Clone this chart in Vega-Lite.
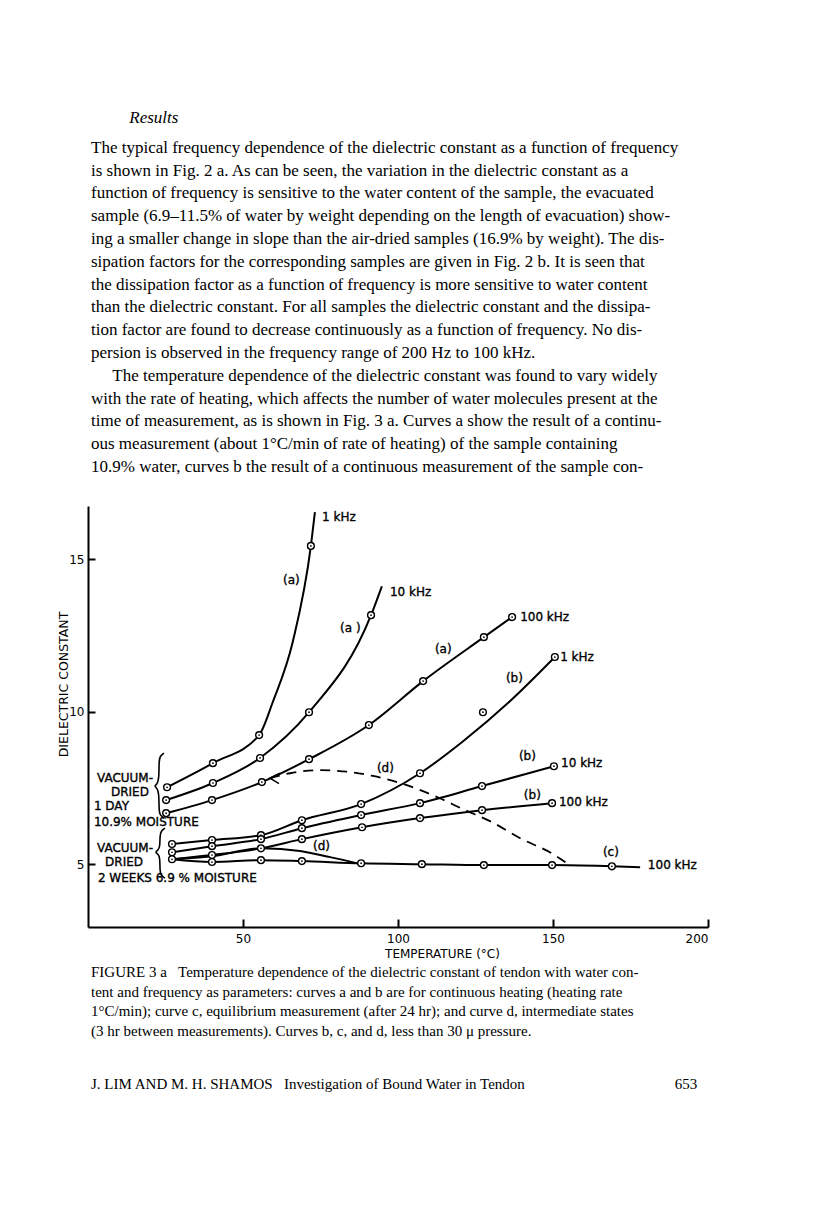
{
  "$schema": "https://vega.github.io/schema/vega-lite/v6.json",
  "background": "white",
  "padding": {"left": 57, "top": 108, "right": 5, "bottom": 5},
  "title": {
    "text": "\u200b\u00a0\u00a0\u00a0\u00a0\u00a0\u00a0\u00a0\u00a0\u00a0Results",
    "subtitle": [
      "The typical frequency dependence of the dielectric constant as a function of frequency",
      "is shown in Fig. 2 a. As can be seen, the variation in the dielectric constant as a",
      "function of frequency is sensitive to the water content of the sample, the evacuated",
      "sample (6.9–11.5% of water by weight depending on the length of evacuation) show-",
      "ing a smaller change in slope than the air-dried samples (16.9% by weight). The dis-",
      "sipation factors for the corresponding samples are given in Fig. 2 b. It is seen that",
      "the dissipation factor as a function of frequency is more sensitive to water content",
      "than the dielectric constant. For all samples the dielectric constant and the dissipa-",
      "tion factor are found to decrease continuously as a function of frequency. No dis-",
      "persion is observed in the frequency range of 200 Hz to 100 kHz.",
      "\u200b\u00a0\u00a0\u00a0\u00a0\u00a0The temperature dependence of the dielectric constant was found to vary widely",
      "with the rate of heating, which affects the number of water molecules present at the",
      "time of measurement, as is shown in Fig. 3 a. Curves a show the result of a continu-",
      "ous measurement (about 1°C/min of rate of heating) of the sample containing",
      "10.9% water, curves b the result of a continuous measurement of the sample con-"
    ],
    "anchor": "start",
    "frame": "group",
    "font": "Liberation Serif",
    "fontSize": 17,
    "fontStyle": "italic",
    "fontWeight": "normal",
    "color": "black",
    "subtitleFont": "Liberation Serif",
    "subtitleFontSize": 17,
    "subtitleColor": "black",
    "subtitleLineHeight": 22.8,
    "subtitlePadding": 13,
    "offset": 30,
    "dx": 3
  },
  "datasets": {
    "curves": [
      {"curve": "a1k", "x": 25.5, "y": 7.52}, {"curve": "a1k", "x": 40.3, "y": 8.31}, {"curve": "a1k", "x": 55.2, "y": 9.23}, {"curve": "a1k", "x": 59.7, "y": 10.34}, {"curve": "a1k", "x": 66.1, "y": 12.31}, {"curve": "a1k", "x": 71.9, "y": 15.43}, {"curve": "a1k", "x": 73.2, "y": 16.54},
      {"curve": "a10k", "x": 25.2, "y": 7.10}, {"curve": "a10k", "x": 40.3, "y": 7.66}, {"curve": "a10k", "x": 55.5, "y": 8.48}, {"curve": "a10k", "x": 71.3, "y": 9.98}, {"curve": "a10k", "x": 91.3, "y": 13.16}, {"curve": "a10k", "x": 94.8, "y": 14.11},
      {"curve": "a100k", "x": 25.2, "y": 6.67}, {"curve": "a100k", "x": 40.0, "y": 7.10}, {"curve": "a100k", "x": 56.1, "y": 7.69}, {"curve": "a100k", "x": 71.3, "y": 8.44}, {"curve": "a100k", "x": 90.6, "y": 9.56}, {"curve": "a100k", "x": 108.1, "y": 11.0}, {"curve": "a100k", "x": 127.7, "y": 12.44}, {"curve": "a100k", "x": 136.8, "y": 13.10},
      {"curve": "b1k", "x": 27.1, "y": 5.66}, {"curve": "b1k", "x": 40.0, "y": 5.79}, {"curve": "b1k", "x": 55.8, "y": 5.95}, {"curve": "b1k", "x": 69.0, "y": 6.44}, {"curve": "b1k", "x": 88.1, "y": 6.97}, {"curve": "b1k", "x": 107.1, "y": 7.98}, {"curve": "b1k", "x": 121.0, "y": 9.03}, {"curve": "b1k", "x": 136.1, "y": 10.34}, {"curve": "b1k", "x": 150.6, "y": 11.79},
      {"curve": "b10k", "x": 27.1, "y": 5.39}, {"curve": "b10k", "x": 40.0, "y": 5.59}, {"curve": "b10k", "x": 55.8, "y": 5.82}, {"curve": "b10k", "x": 69.0, "y": 6.18}, {"curve": "b10k", "x": 88.1, "y": 6.61}, {"curve": "b10k", "x": 107.1, "y": 7.0}, {"curve": "b10k", "x": 127.1, "y": 7.56}, {"curve": "b10k", "x": 150.3, "y": 8.21},
      {"curve": "b100k", "x": 27.1, "y": 5.16}, {"curve": "b100k", "x": 40.0, "y": 5.30}, {"curve": "b100k", "x": 55.8, "y": 5.52}, {"curve": "b100k", "x": 69.0, "y": 5.82}, {"curve": "b100k", "x": 88.4, "y": 6.21}, {"curve": "b100k", "x": 107.1, "y": 6.51}, {"curve": "b100k", "x": 127.1, "y": 6.77}, {"curve": "b100k", "x": 149.7, "y": 7.0},
      {"curve": "c", "x": 27.1, "y": 5.16}, {"curve": "c", "x": 40.0, "y": 5.07}, {"curve": "c", "x": 55.8, "y": 5.13}, {"curve": "c", "x": 69.0, "y": 5.10}, {"curve": "c", "x": 88.1, "y": 5.03}, {"curve": "c", "x": 107.7, "y": 5.0}, {"curve": "c", "x": 127.7, "y": 4.97}, {"curve": "c", "x": 149.7, "y": 4.97}, {"curve": "c", "x": 169.0, "y": 4.93}, {"curve": "c", "x": 178.1, "y": 4.90},
      {"curve": "d", "x": 27.1, "y": 5.16}, {"curve": "d", "x": 40.0, "y": 5.26}, {"curve": "d", "x": 56.1, "y": 5.52}, {"curve": "d", "x": 68.4, "y": 5.43}, {"curve": "d", "x": 78.1, "y": 5.23}, {"curve": "d", "x": 88.1, "y": 5.0}
    ],
    "dashed": [
      {"x": 58.7, "y": 7.82}, {"x": 65.2, "y": 7.98}, {"x": 74.8, "y": 8.08}, {"x": 84.5, "y": 8.02}, {"x": 91.9, "y": 7.89}, {"x": 99.7, "y": 7.69}, {"x": 113.5, "y": 7.16}, {"x": 121.0, "y": 6.80}, {"x": 129.7, "y": 6.41}, {"x": 139.4, "y": 5.85}, {"x": 150.0, "y": 5.33}, {"x": 154.5, "y": 5.03}
    ],
    "arrow": [
      {"i": 1, "x": 61.9, "y": 7.98}, {"i": 2, "x": 58.7, "y": 7.82}, {"i": 3, "x": 61.6, "y": 7.64}
    ],
    "markers": [
      {"x": 25.5, "y": 7.52}, {"x": 40.3, "y": 8.31}, {"x": 55.2, "y": 9.23}, {"x": 71.9, "y": 15.43},
      {"x": 25.2, "y": 7.10}, {"x": 40.3, "y": 7.66}, {"x": 55.5, "y": 8.48}, {"x": 71.3, "y": 9.98}, {"x": 91.3, "y": 13.16},
      {"x": 25.2, "y": 6.67}, {"x": 40.0, "y": 7.10}, {"x": 56.1, "y": 7.69}, {"x": 71.3, "y": 8.44}, {"x": 90.6, "y": 9.56}, {"x": 108.1, "y": 11.0}, {"x": 127.7, "y": 12.44}, {"x": 136.8, "y": 13.10},
      {"x": 27.1, "y": 5.66}, {"x": 40.0, "y": 5.79}, {"x": 55.8, "y": 5.95}, {"x": 69.0, "y": 6.44}, {"x": 88.1, "y": 6.97}, {"x": 107.1, "y": 7.98}, {"x": 127.4, "y": 9.98}, {"x": 150.6, "y": 11.79},
      {"x": 27.1, "y": 5.39}, {"x": 40.0, "y": 5.59}, {"x": 55.8, "y": 5.82}, {"x": 69.0, "y": 6.18}, {"x": 88.1, "y": 6.61}, {"x": 107.1, "y": 7.0}, {"x": 127.1, "y": 7.56}, {"x": 150.3, "y": 8.21},
      {"x": 27.1, "y": 5.16}, {"x": 40.0, "y": 5.30}, {"x": 55.8, "y": 5.52}, {"x": 69.0, "y": 5.82}, {"x": 88.4, "y": 6.21}, {"x": 107.1, "y": 6.51}, {"x": 127.1, "y": 6.77}, {"x": 149.7, "y": 7.0},
      {"x": 40.0, "y": 5.07}, {"x": 55.8, "y": 5.13}, {"x": 69.0, "y": 5.10}, {"x": 88.1, "y": 5.03}, {"x": 107.7, "y": 5.0}, {"x": 127.7, "y": 4.97}, {"x": 149.7, "y": 4.97}, {"x": 169.0, "y": 4.93}
    ],
    "braces": [
      {"brace": 1, "i": 1, "x": 24.5, "y": 8.64}, {"brace": 1, "i": 2, "x": 23.2, "y": 8.54}, {"brace": 1, "i": 3, "x": 22.9, "y": 8.38}, {"brace": 1, "i": 4, "x": 22.9, "y": 7.79}, {"brace": 1, "i": 5, "x": 22.3, "y": 7.62}, {"brace": 1, "i": 6, "x": 21.3, "y": 7.56}, {"brace": 1, "i": 7, "x": 22.3, "y": 7.49}, {"brace": 1, "i": 8, "x": 22.9, "y": 7.33}, {"brace": 1, "i": 9, "x": 22.9, "y": 6.74}, {"brace": 1, "i": 10, "x": 23.2, "y": 6.61}, {"brace": 1, "i": 11, "x": 24.5, "y": 6.51},
      {"brace": 2, "i": 1, "x": 24.8, "y": 6.18}, {"brace": 2, "i": 2, "x": 23.5, "y": 6.08}, {"brace": 2, "i": 3, "x": 23.2, "y": 5.92}, {"brace": 2, "i": 4, "x": 23.2, "y": 5.56}, {"brace": 2, "i": 5, "x": 22.6, "y": 5.46}, {"brace": 2, "i": 6, "x": 21.6, "y": 5.39}, {"brace": 2, "i": 7, "x": 22.6, "y": 5.33}, {"brace": 2, "i": 8, "x": 23.2, "y": 5.23}, {"brace": 2, "i": 9, "x": 23.2, "y": 4.77}, {"brace": 2, "i": 10, "x": 23.5, "y": 4.64}, {"brace": 2, "i": 11, "x": 24.8, "y": 4.54}
    ],
    "labels": [
      {"x": 75.5, "y": 16.38, "text": "1 kHz"},
      {"x": 97.4, "y": 13.92, "text": "10 kHz"},
      {"x": 139.4, "y": 13.10, "text": "100 kHz"},
      {"x": 152.3, "y": 11.79, "text": "1 kHz"},
      {"x": 152.6, "y": 8.30, "text": "10 kHz"},
      {"x": 151.9, "y": 7.03, "text": "100 kHz"},
      {"x": 180.6, "y": 4.97, "text": "100 kHz"},
      {"x": 62.9, "y": 14.31, "text": "(a)"},
      {"x": 81.3, "y": 12.74, "text": "(a )"},
      {"x": 111.9, "y": 12.05, "text": "(a)"},
      {"x": 134.8, "y": 11.10, "text": "(b)"},
      {"x": 139.0, "y": 8.54, "text": "(b)"},
      {"x": 140.6, "y": 7.26, "text": "(b)"},
      {"x": 166.1, "y": 5.39, "text": "(c)"},
      {"x": 93.2, "y": 8.15, "text": "(d)"},
      {"x": 72.6, "y": 5.59, "text": "(d)"},
      {"x": 2.9, "y": 7.82, "text": "VACUUM-"},
      {"x": 7.4, "y": 7.36, "text": "DRIED"},
      {"x": 1.9, "y": 6.90, "text": "1 DAY"},
      {"x": 1.9, "y": 6.38, "text": "10.9% MOISTURE"},
      {"x": 2.9, "y": 5.52, "text": "VACUUM-"},
      {"x": 5.5, "y": 5.07, "text": "DRIED"},
      {"x": 3.2, "y": 4.54, "text": "2 WEEKS 6.9 % MOISTURE"}
    ]
  },
  "vconcat": [
    {
      "width": 620,
      "height": 421,
      "title": {
        "text": [
          "FIGURE 3 a\u00a0\u00a0\u00a0Temperature dependence of the dielectric constant of tendon with water con-",
          "tent and frequency as parameters: curves a and b are for continuous heating (heating rate",
          "1°C/min); curve c, equilibrium measurement (after 24 hr); and curve d, intermediate states",
          "(3 hr between measurements). Curves b, c, and d, less than 30 μ pressure."
        ],
        "subtitle": "J. LIM AND M. H. SHAMOS\u00a0\u00a0\u00a0Investigation of Bound Water in Tendon\u2003\u2003\u2003\u2003\u2003\u2003\u2003\u2003\u2003\u2003653",
        "orient": "bottom",
        "anchor": "start",
        "frame": "group",
        "font": "Liberation Serif",
        "fontSize": 15,
        "fontWeight": "normal",
        "color": "black",
        "lineHeight": 19.6,
        "subtitleFont": "Liberation Serif",
        "subtitleFontSize": 15,
        "subtitleColor": "black",
        "subtitlePadding": 38,
        "offset": 6,
        "dx": 3
      },
      "layer": [
        {
          "data": {"name": "curves"},
          "mark": {"type": "line", "interpolate": "monotone", "color": "black", "strokeWidth": 2},
          "encoding": {
            "x": {"field": "x", "type": "quantitative", "scale": {"domain": [0, 200], "nice": false, "zero": false},
              "axis": {"values": [50, 100, 150, 200], "title": "TEMPERATURE (°C)", "grid": false, "tickSize": -8, "tickWidth": 2, "tickColor": "black", "domainColor": "black", "domainWidth": 2, "labelPadding": 14, "labelFont": "DejaVu Sans", "labelFontSize": 12, "labelColor": "black", "titleFont": "DejaVu Sans", "titleFontSize": 12, "titleFontWeight": "normal", "titleColor": "black", "titleX": 354, "titleY": 26, "titleAlign": "center", "titleBaseline": "middle"}},
            "y": {"field": "y", "type": "quantitative", "scale": {"domain": [2.94, 16.74], "nice": false, "zero": false},
              "axis": {"values": [5, 10, 15], "title": "DIELECTRIC CONSTANT", "grid": false, "tickSize": -7, "tickWidth": 2, "tickColor": "black", "domainColor": "black", "domainWidth": 2, "labelPadding": 11, "labelFont": "DejaVu Sans", "labelFontSize": 12, "labelColor": "black", "titleFont": "DejaVu Sans", "titleFontSize": 12.5, "titleFontWeight": "normal", "titleColor": "black", "titleX": -25, "titleY": 178, "titleAngle": 270, "titleAlign": "center", "titleBaseline": "middle"}},
            "detail": {"field": "curve"}
          }
        },
        {
          "data": {"name": "dashed"},
          "mark": {"type": "line", "interpolate": "monotone", "color": "black", "strokeWidth": 1.8, "strokeDash": [10, 7]},
          "encoding": {
            "x": {"field": "x", "type": "quantitative"},
            "y": {"field": "y", "type": "quantitative"}
          }
        },
        {
          "data": {"name": "arrow"},
          "mark": {"type": "line", "interpolate": "linear", "color": "black", "strokeWidth": 1.6},
          "encoding": {
            "x": {"field": "x", "type": "quantitative"},
            "y": {"field": "y", "type": "quantitative"},
            "order": {"field": "i"}
          }
        },
        {
          "data": {"name": "braces"},
          "mark": {"type": "line", "interpolate": "basis", "color": "black", "strokeWidth": 1.6},
          "encoding": {
            "x": {"field": "x", "type": "quantitative"},
            "y": {"field": "y", "type": "quantitative"},
            "detail": {"field": "brace"},
            "order": {"field": "i"}
          }
        },
        {
          "data": {"name": "markers"},
          "mark": {"type": "point", "shape": "circle", "filled": false, "fill": "white", "fillOpacity": 1, "stroke": "black", "strokeWidth": 1.4, "size": 46, "opacity": 1},
          "encoding": {
            "x": {"field": "x", "type": "quantitative"},
            "y": {"field": "y", "type": "quantitative"}
          }
        },
        {
          "data": {"name": "markers"},
          "mark": {"type": "point", "shape": "circle", "filled": true, "color": "black", "size": 3, "opacity": 1},
          "encoding": {
            "x": {"field": "x", "type": "quantitative"},
            "y": {"field": "y", "type": "quantitative"}
          }
        },
        {
          "data": {"name": "labels"},
          "mark": {"type": "text", "align": "left", "baseline": "middle", "font": "DejaVu Sans", "fontSize": 12, "color": "black", "stroke": "black", "strokeWidth": 0.35},
          "encoding": {
            "x": {"field": "x", "type": "quantitative"},
            "y": {"field": "y", "type": "quantitative"},
            "text": {"field": "text"}
          }
        }
      ]
    }
  ],
  "config": {
    "view": {"stroke": null},
    "concat": {"spacing": 0}
  }
}
